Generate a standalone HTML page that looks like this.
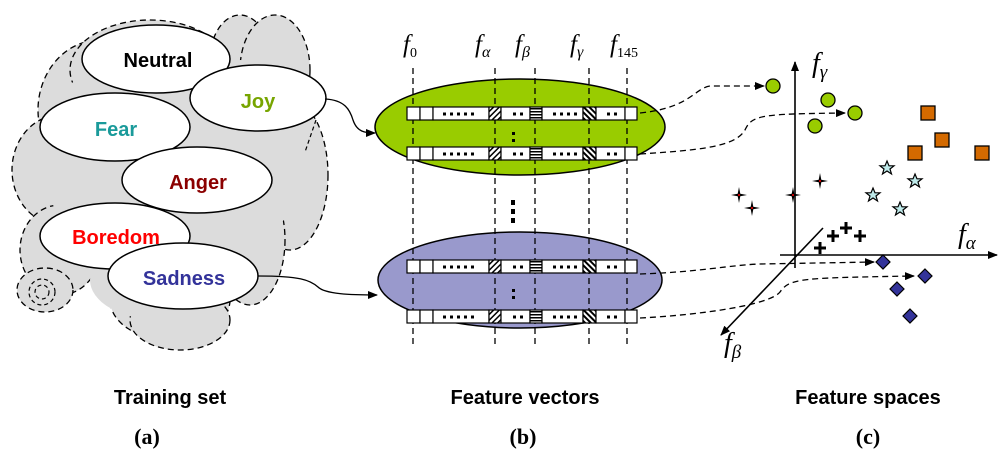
<!DOCTYPE html>
<html><head><style>body{margin:0;background:#fff}svg{display:block}</style></head><body>
<svg width="1000" height="457" viewBox="0 0 1000 457" xmlns="http://www.w3.org/2000/svg">
<defs>
<marker id="ah" markerWidth="10" markerHeight="8" refX="9" refY="4" orient="auto" markerUnits="userSpaceOnUse"><path d="M0,0L10,4L0,8z" fill="#000"/></marker>
<pattern id="h1" width="4" height="4" patternUnits="userSpaceOnUse" patternTransform="rotate(45)"><rect width="4" height="4" fill="#fff"/><rect width="1.5" height="4" fill="#000"/></pattern>
<pattern id="h2" width="4" height="4" patternUnits="userSpaceOnUse" patternTransform="rotate(-45)"><rect width="4" height="4" fill="#fff"/><rect width="2" height="4" fill="#000"/></pattern>
<pattern id="h3" width="4" height="3" patternUnits="userSpaceOnUse"><rect width="4" height="3" fill="#fff"/><rect width="4" height="1.5" fill="#000"/></pattern>
</defs>
<g fill="#dcdcdc" stroke="#000" stroke-width="1.3" stroke-dasharray="6,4">
<ellipse cx="100" cy="110" rx="62" ry="70"/>
<ellipse cx="60" cy="170" rx="48" ry="55"/>
<ellipse cx="150" cy="70" rx="80" ry="50"/>
<ellipse cx="240" cy="60" rx="30" ry="45"/>
<ellipse cx="275" cy="70" rx="35" ry="55"/>
<ellipse cx="290" cy="175" rx="38" ry="75"/>
<ellipse cx="250" cy="240" rx="35" ry="65"/>
<ellipse cx="60" cy="250" rx="40" ry="45"/>
<ellipse cx="170" cy="300" rx="60" ry="40"/>
<ellipse cx="180" cy="320" rx="50" ry="30"/>
<ellipse cx="45" cy="290" rx="28" ry="22"/>
</g>
<g fill="#dcdcdc" stroke="none">
<ellipse cx="170" cy="180" rx="120" ry="110"/>
<ellipse cx="110" cy="150" rx="70" ry="80"/>
<ellipse cx="240" cy="150" rx="70" ry="90"/>
<ellipse cx="160" cy="280" rx="70" ry="40"/>
</g>
<g fill="none" stroke="#000" stroke-width="1.2" stroke-dasharray="4,3">
<circle cx="42" cy="292" r="13"/><circle cx="42" cy="292" r="7"/>
<path d="M316 120 L305 152"/>
</g>
<g stroke="#000" stroke-width="1.5" fill="#fff">
<ellipse cx="156" cy="59" rx="74" ry="34"/>
<ellipse cx="258" cy="98" rx="68" ry="33"/>
<ellipse cx="115" cy="127" rx="75" ry="34"/>
<ellipse cx="197" cy="180" rx="75" ry="33"/>
<ellipse cx="115" cy="236" rx="75" ry="33"/>
<ellipse cx="183" cy="276" rx="75" ry="33"/>
</g>
<g font-family="Liberation Sans, sans-serif" font-weight="bold" font-size="20" text-anchor="middle">
<text x="158" y="67" fill="#000">Neutral</text>
<text x="258" y="108" fill="#77a500">Joy</text>
<text x="116" y="136" fill="#1a9a9a">Fear</text>
<text x="198" y="189" fill="#8b0000">Anger</text>
<text x="116" y="244" fill="#ff0000">Boredom</text>
<text x="184" y="285" fill="#33339a">Sadness</text>
</g>
<path d="M325 99 C345 100 350 110 353 120 C357 132 365 133 375 133" fill="none" stroke="#000" stroke-width="1.3" marker-end="url(#ah)"/>
<path d="M258 276 C300 276 310 280 318 287 C325 294 350 295 377 295" fill="none" stroke="#000" stroke-width="1.3" marker-end="url(#ah)"/>
<ellipse cx="520" cy="127" rx="145" ry="48" fill="#99cc00" stroke="#000" stroke-width="1.5"/>
<ellipse cx="520" cy="280" rx="142" ry="48" fill="#9999cc" stroke="#000" stroke-width="1.5"/>
<g stroke="#000" stroke-width="1.3" stroke-dasharray="6,4">
<line x1="413" y1="68" x2="413" y2="345"/><line x1="495" y1="68" x2="495" y2="345"/>
<line x1="535" y1="68" x2="535" y2="345"/><line x1="589" y1="68" x2="589" y2="345"/>
<line x1="627" y1="68" x2="627" y2="345"/>
</g>
<g font-family="Liberation Serif, serif" font-style="italic" font-size="25">
<text x="403" y="52">f<tspan font-size="14" font-style="normal" dy="5">0</tspan></text>
<text x="475" y="52">f<tspan font-size="16" dy="5">α</tspan></text>
<text x="515" y="52">f<tspan font-size="16" dy="5">β</tspan></text>
<text x="570" y="52">f<tspan font-size="16" dy="5">γ</tspan></text>
<text x="610" y="52">f<tspan font-size="14" font-style="normal" dy="5">145</tspan></text>
</g>
<g id="row">
<g stroke="#000" stroke-width="1.2">
<rect x="407" y="107" width="13" height="13" fill="#fff"/><rect x="420" y="107" width="13" height="13" fill="#fff"/>
<rect x="433" y="107" width="56" height="13" fill="#fff"/><rect x="489" y="107" width="12" height="13" fill="url(#h1)"/>
<rect x="501" y="107" width="29" height="13" fill="#fff"/><rect x="530" y="107" width="12" height="13" fill="url(#h3)"/>
<rect x="542" y="107" width="41" height="13" fill="#fff"/><rect x="583" y="107" width="13" height="13" fill="url(#h2)"/>
<rect x="596" y="107" width="29" height="13" fill="#fff"/><rect x="625" y="107" width="12" height="13" fill="#fff"/>
</g>
<g stroke="#000" stroke-width="3" stroke-dasharray="3,4">
<line x1="443" y1="114" x2="478" y2="114"/>
<line x1="513" y1="114" x2="524" y2="114"/>
<line x1="553" y1="114" x2="580" y2="114"/>
<line x1="607" y1="114" x2="618" y2="114"/></g>
</g>
<use href="#row" y="40"/><use href="#row" y="153"/><use href="#row" y="203"/>
<g fill="#000"><rect x="512" y="132" width="3" height="3"/><rect x="512" y="139" width="3" height="3"/>
<rect x="512" y="289" width="3" height="3"/><rect x="512" y="296" width="3" height="3"/>
<rect x="511" y="200" width="4" height="5"/><rect x="511" y="209" width="4" height="5"/><rect x="511" y="218" width="4" height="5"/></g>
<g fill="none" stroke="#000" stroke-width="1.3" stroke-dasharray="6,4" marker-end="url(#ah)">
<path d="M640 113 C690 108 695 88 710 86 L764 86"/>
<path d="M640 154 C700 150 735 147 745 130 C752 115 760 114 845 113"/>
<path d="M640 274 C700 272 730 265 760 264 L874 262"/>
<path d="M640 318 C700 315 770 305 780 292 C790 278 800 278 914 276"/>
</g>
<g stroke="#000" stroke-width="1.6" fill="none">
<line x1="795" y1="268" x2="795" y2="62" marker-end="url(#ah)"/>
<line x1="780" y1="255" x2="997" y2="255" marker-end="url(#ah)"/>
<line x1="823" y1="228" x2="721" y2="335" marker-end="url(#ah)"/>
</g>
<g font-family="Liberation Serif, serif" font-style="italic" font-size="28">
<text x="812" y="72">f<tspan font-size="19" dy="6">γ</tspan></text>
<text x="958" y="243">f<tspan font-size="19" dy="6">α</tspan></text>
<text x="724" y="352">f<tspan font-size="19" dy="6">β</tspan></text>
</g>
<g fill="#99cc00" stroke="#000" stroke-width="1.3">
<circle cx="773" cy="86" r="7"/><circle cx="828" cy="100" r="7"/><circle cx="855" cy="113" r="7"/><circle cx="815" cy="126" r="7"/>
</g>
<g fill="#d46a00" stroke="#000" stroke-width="1.3">
<rect x="921" y="106" width="14" height="14"/><rect x="935" y="133" width="14" height="14"/><rect x="908" y="146" width="14" height="14"/><rect x="975" y="146" width="14" height="14"/>
</g>
<g fill="#bfeaea" stroke="#000" stroke-width="1.2">
<path id="st" d="M0,-7 L2,-2.2 7,-2.2 3,1 4.5,6 0,3 -4.5,6 -3,1 -7,-2.2 -2,-2.2z" transform="translate(887,168)"/>
<use href="#st" x="28" y="13"/><use href="#st" x="-14" y="27"/><use href="#st" x="13" y="41"/>
</g>
<g fill="#33339a" stroke="#000" stroke-width="1.2">
<path d="M883 255 L890 262 883 269 876 262z"/><path d="M925 269 L932 276 925 283 918 276z"/><path d="M897 282 L904 289 897 296 890 289z"/><path d="M910 309 L917 316 910 323 903 316z"/>
</g>
<g fill="#000">
<path id="sp" d="M0,-8 L1.3,-1.3 8,0 1.3,1.3 0,8 -1.3,1.3 -8,0 -1.3,-1.3z" transform="translate(739,195)"/>
<use href="#sp" x="13" y="13"/><use href="#sp" x="54" y="0"/><use href="#sp" x="81" y="-14"/>
</g>
<g fill="#f00"><circle cx="739" cy="195" r="1"/><circle cx="752" cy="208" r="1"/><circle cx="793" cy="195" r="1"/><circle cx="820" cy="181" r="1"/></g>
<g stroke="#000" stroke-width="3">
<path d="M814 248h12M820 242v12"/><path d="M827 236h12M833 230v12"/><path d="M840 228h12M846 222v12"/><path d="M854 236h12M860 230v12"/>
</g>
<g font-family="Liberation Sans, sans-serif" font-weight="bold" font-size="20" text-anchor="middle">
<text x="170" y="404">Training set</text><text x="525" y="404">Feature vectors</text><text x="868" y="404">Feature spaces</text>
</g>
<g font-family="Liberation Serif, serif" font-weight="bold" font-size="22" text-anchor="middle">
<text x="147" y="444">(a)</text><text x="523" y="444">(b)</text><text x="868" y="444">(c)</text>
</g>
</svg>
</body></html>
